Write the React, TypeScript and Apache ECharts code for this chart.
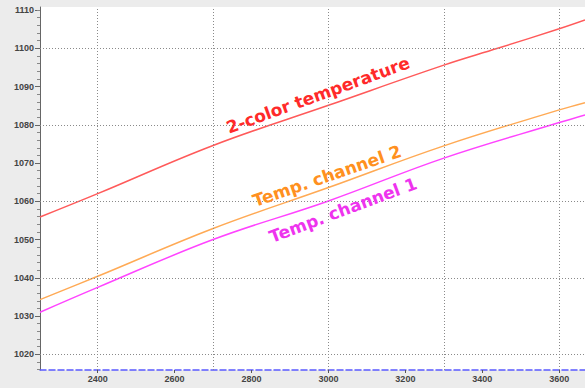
import React, { useEffect, useRef } from "react";
import * as echarts from "echarts";

const xValues = [2250, 2400, 2700, 3000, 3300, 3440, 3600, 3667];
const twoColor = [1055.9, 1062.0, 1074.6, 1085.1, 1095.6, 1100.0, 1105.1, 1107.4];
const xValues2 = [2250, 2400, 2700, 3000, 3300, 3600, 3667];
const channel2 = [1034.3, 1040.4, 1052.9, 1063.6, 1074.5, 1083.9, 1085.8];
const xValues1 = [2250, 2400, 2700, 3000, 3300, 3600, 3667];
const channel1 = [1031.0, 1037.5, 1050.0, 1060.1, 1071.3, 1080.6, 1082.6];

const xTicks = [2400, 2600, 2800, 3000, 3200, 3400, 3600];
const xGrid = [2400, 2700, 3000, 3300, 3600];
const yTicks = [1020, 1030, 1040, 1050, 1060, 1070, 1080, 1090, 1100, 1110];
const yMinorTicks = [1016, 1018, 1022, 1024, 1026, 1028, 1032, 1034, 1036, 1038, 1042, 1044, 1046, 1048, 1052, 1054, 1056, 1058, 1062, 1064, 1066, 1068, 1072, 1074, 1076, 1078, 1082, 1084, 1086, 1088, 1092, 1094, 1096, 1098, 1102, 1104, 1106, 1108, 1110];
const yGrid = [1020, 1040, 1060, 1080, 1100];

const X_MIN = 2250;
const X_MAX = 3667;
const Y_MIN = 1015.9;
const Y_MAX = 1110.8;

export default function App() {
  const ref = useRef<HTMLDivElement>(null);
  useEffect(() => {
    if (!ref.current) return;
    const chart = echarts.init(ref.current, null, { renderer: "svg" });
    const dotted = { color: "#8a8a8a", width: 1, type: [1, 2] as number[] };
    const labelFont = {
      fontSize: 9,
      fontFamily: "Liberation Sans",
      fontWeight: "bold" as const,
      color: "#444",
      formatter: (v: number) => String(v),
    };
    chart.setOption({
      animation: false,
      backgroundColor: "#ececec",
      grid: {
        left: 40,
        right: 0,
        top: 7,
        bottom: 18,
        show: true,
        backgroundColor: "#ffffff",
        borderWidth: 0,
      },
      xAxis: {
        type: "value",
        min: X_MIN,
        max: X_MAX,
        axisLine: { show: true, lineStyle: { color: "#5a5aff", width: 1.5, type: [6, 3] } },
        axisTick: { show: true, customValues: xTicks, length: 3, lineStyle: { color: "#555" } },
        axisLabel: { ...labelFont, customValues: xTicks, margin: 4 },
        splitLine: { show: false },
      },
      yAxis: [
        {
          type: "value",
          min: Y_MIN,
          max: Y_MAX,
          axisLine: { show: true, lineStyle: { color: "#666", width: 1 } },
          axisTick: { show: true, customValues: yTicks, length: 5, lineStyle: { color: "#666" } },
          axisLabel: { ...labelFont, customValues: yTicks, margin: 6 },
          splitLine: { show: false },
        },
        {
          type: "value",
          position: "left",
          min: Y_MIN,
          max: Y_MAX,
          axisLine: { show: false },
          axisTick: { show: true, customValues: yMinorTicks, length: 3, lineStyle: { color: "#888" } },
          axisLabel: { show: false },
          splitLine: { show: false },
        },
      ],
      series: [
        {
          type: "line",
          data: [],
          z: 1,
          silent: true,
          markLine: {
            silent: true,
            symbol: "none",
            label: { show: false },
            lineStyle: dotted,
            data: [
              ...yGrid.map((v) => ({ yAxis: v })),
              ...xGrid.map((v) => ({ xAxis: v })),
            ],
          },
        },
        {
          type: "line",
          name: "2-color temperature",
          data: xValues.map((x, i) => [x, twoColor[i]]),
          smooth: 0.4,
          showSymbol: false,
          z: 3,
          lineStyle: { color: "#ff5a5a", width: 1.5 },
        },
        {
          type: "line",
          name: "Temp. channel 2",
          data: xValues2.map((x, i) => [x, channel2[i]]),
          smooth: 0.4,
          showSymbol: false,
          z: 3,
          lineStyle: { color: "#ffaa55", width: 1.5 },
        },
        {
          type: "line",
          name: "Temp. channel 1",
          data: xValues1.map((x, i) => [x, channel1[i]]),
          smooth: 0.4,
          showSymbol: false,
          z: 3,
          lineStyle: { color: "#ff44ff", width: 1.5 },
        },
      ],
      graphic: [
        {
          type: "text",
          x: 318,
          y: 95,
          rotation: (20 * Math.PI) / 180,
          z: 10,
          style: {
            text: "2-color temperature",
            fill: "#ff2a2a",
            font: "bold 17px 'DejaVu Sans', Verdana, sans-serif",
            align: "center",
            verticalAlign: "middle",
          },
        },
        {
          type: "text",
          x: 327,
          y: 176,
          rotation: (19 * Math.PI) / 180,
          z: 10,
          style: {
            text: "Temp. channel 2",
            fill: "#ff9020",
            font: "bold 17px 'DejaVu Sans', Verdana, sans-serif",
            align: "center",
            verticalAlign: "middle",
          },
        },
        {
          type: "text",
          x: 343,
          y: 210,
          rotation: (20.5 * Math.PI) / 180,
          z: 10,
          style: {
            text: "Temp. channel 1",
            fill: "#ee33ee",
            font: "bold 17px 'DejaVu Sans', Verdana, sans-serif",
            align: "center",
            verticalAlign: "middle",
          },
        },
      ],
    });
    return () => chart.dispose();
  }, []);
  return <div ref={ref} style={{ width: 585, height: 388, position: "absolute", left: 0, top: 0 }} />;
}
